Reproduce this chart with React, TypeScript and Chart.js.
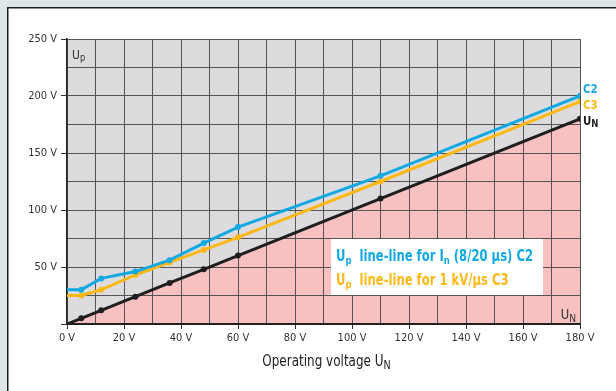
import React, { useEffect, useRef } from 'react';
import { Chart, registerables } from 'chart.js';

Chart.register(...registerables);

// ---- data ----
const voltageN = [0, 5, 12, 24, 36, 48, 60, 110, 180];
const upC2 = [30, 30, 40, 46, 56, 71, 85, 130, 200];
const upC3 = [25, 25, 30, 43, 54, 65, 76, 125, 195];
const unLine = [0, 5, 12, 24, 36, 48, 60, 110, 180];
const xMax = 180;
const yMax = 250;
const xLabelStep = 20;
const yLabelStep = 50;
const unitSuffix = ' V';
const legendC2 = [{ t: 'U' }, { t: 'p', sub: true }, { t: '  line-line for I' }, { t: 'n', sub: true }, { t: ' (8/20 µs) C2' }];
const legendC3 = [{ t: 'U' }, { t: 'p', sub: true }, { t: '  line-line for 1 kV/µs C3' }];
const xTitle = [{ t: 'Operating voltage U' }, { t: 'N', sub: true }];
const yCorner = [{ t: 'U' }, { t: 'p', sub: true }];
const xCorner = [{ t: 'U' }, { t: 'N', sub: true }];
const endC2 = [{ t: 'C2' }];
const endC3 = [{ t: 'C3' }];
const endUN = [{ t: 'U' }, { t: 'N', sub: true }];

const FONT = '"Liberation Sans Narrow", "DejaVu Sans Condensed", "Arial Narrow", sans-serif';
const BLUE = '#12a8e2';
const YELLOW = '#fbb817';
const BLACK = '#1e1e1e';

type Part = { t: string; sub?: boolean };

function drawRich(
  ctx: CanvasRenderingContext2D,
  parts: Part[],
  x: number,
  y: number,
  size: number,
  weight: string,
  color: string,
  align: 'left' | 'center' | 'right' = 'left',
  subScale = 0.75,
  subDrop = 0.22,
  sx = 1
) {
  const main = `${weight} ${size}px ${FONT}`;
  const subf = `${weight} ${Math.round(size * subScale)}px ${FONT}`;
  let w = 0;
  parts.forEach((p) => {
    ctx.font = p.sub ? subf : main;
    w += ctx.measureText(p.t).width;
  });
  const W = w * sx;
  const start = align === 'center' ? x - W / 2 : align === 'right' ? x - W : x;
  ctx.save();
  ctx.translate(start, 0);
  ctx.scale(sx, 1);
  ctx.fillStyle = color;
  ctx.textBaseline = 'alphabetic';
  ctx.textAlign = 'left';
  let cx = 0;
  parts.forEach((p) => {
    ctx.font = p.sub ? subf : main;
    ctx.fillText(p.t, cx, y + (p.sub ? size * subDrop : 0));
    cx += ctx.measureText(p.t).width;
  });
  ctx.restore();
}

export default function App() {
  const ref = useRef<HTMLCanvasElement>(null);

  useEffect(() => {
    document.body.style.margin = '0';
    const canvas = ref.current!;

    const bgPlugin = {
      id: 'bgPlugin',
      beforeDraw(chart: any) {
        const { ctx, chartArea: ca, scales } = chart;
        const xs = scales.x;
        const ys = scales.y;
        ctx.save();
        ctx.fillStyle = '#dfe6ea';
        ctx.fillRect(0, 0, chart.width, chart.height);
        ctx.fillStyle = '#ffffff';
        ctx.fillRect(7, 7, chart.width - 7, chart.height - 7);
        ctx.strokeStyle = '#1e1e1e';
        ctx.lineWidth = 1.5;
        ctx.beginPath();
        ctx.moveTo(7.75, chart.height);
        ctx.lineTo(7.75, 7.75);
        ctx.lineTo(chart.width, 7.75);
        ctx.stroke();
        ctx.fillStyle = '#dcdcde';
        ctx.fillRect(ca.left, ca.top, ca.width, ca.height);
        ctx.fillStyle = '#f8c0c0';
        ctx.beginPath();
        ctx.moveTo(xs.getPixelForValue(voltageN[0]), ys.getPixelForValue(0));
        voltageN.forEach((v, i) => ctx.lineTo(xs.getPixelForValue(v), ys.getPixelForValue(unLine[i])));
        ctx.lineTo(xs.getPixelForValue(voltageN[voltageN.length - 1]), ys.getPixelForValue(0));
        ctx.closePath();
        ctx.fill();
        ctx.restore();
      },
      afterDatasetsDraw(chart: any) {
        const { ctx, chartArea: ca, scales } = chart;
        const xs = scales.x;
        const ys = scales.y;
        ctx.save();
        // legend box
        ctx.fillStyle = '#ffffff';
        ctx.fillRect(331, 239, 212, 56);
        drawRich(ctx, legendC2, 336, 261, 15, 'bold', BLUE, 'left', 0.75, 0.2, 0.86);
        drawRich(ctx, legendC3, 336, 285, 15, 'bold', YELLOW, 'left', 0.75, 0.2, 0.86);
        // corner labels
        drawRich(ctx, yCorner, ca.left + 5, ca.top + 19.5, 13, 'normal', '#333333', 'left', 0.8, 0.18, 0.92);
        drawRich(ctx, xCorner, ca.right - 4, ca.bottom - 5, 14, 'normal', '#333333', 'right', 0.8, 0.2, 0.92);
        // end labels
        const ex = xs.getPixelForValue(voltageN[voltageN.length - 1]) + 3;
        drawRich(ctx, endC2, ex, ys.getPixelForValue(upC2[upC2.length - 1]) - 3, 12, 'bold', BLUE, 'left', 0.75, 0.2, 0.95);
        drawRich(ctx, endC3, ex, ys.getPixelForValue(upC3[upC3.length - 1]) + 7, 12, 'bold', YELLOW, 'left', 0.75, 0.2, 0.95);
        drawRich(ctx, endUN, ex, ys.getPixelForValue(unLine[unLine.length - 1]) + 6, 12, 'bold', BLACK, 'left', 0.8, 0.2, 0.95);
        // x-axis title
        drawRich(ctx, xTitle, (ca.left + ca.right) / 2 + 3, 366, 15, 'normal', '#222222', 'center', 0.8, 0.2, 0.89);
        ctx.restore();
      },
    };

    const mk = (ys: number[], color: string, order: number) => ({
      data: voltageN.map((x, i) => ({ x, y: ys[i] })),
      borderColor: color,
      backgroundColor: color,
      borderWidth: 3,
      pointRadius: (c: any) => (c.dataIndex === 0 ? 0 : 3),
      pointHoverRadius: 3,
      pointBorderWidth: 0,
      pointBackgroundColor: color,
      tension: 0,
      fill: false,
      order,
    });

    const chart = new Chart(canvas, {
      type: 'line',
      data: {
        datasets: [mk(unLine, BLACK, 3), mk(upC3, YELLOW, 2), mk(upC2, BLUE, 1)],
      },
      options: {
        animation: false,
        responsive: false,
        devicePixelRatio: 1,
        layout: { padding: { left: 0, top: 39, right: 36, bottom: 0 } },
        plugins: { legend: { display: false }, tooltip: { enabled: false } },
        events: [],
        scales: {
          x: {
            type: 'linear',
            min: 0,
            max: xMax,
            afterFit: (s: any) => {
              s.height = 67;
            },
            ticks: {
              stepSize: 10,
              autoSkip: false,
              maxRotation: 0,
              padding: 3,
              color: '#333333',
              font: { family: FONT, size: 11 },
              callback: (v: any) => (Number(v) % xLabelStep === 0 ? `${v}${unitSuffix}` : ''),
            },
            grid: {
              color: '#555555',
              lineWidth: 1,
              tickLength: 5,
              tickColor: (c: any) => (c.tick && c.tick.value % xLabelStep === 0 ? '#333333' : 'rgba(0,0,0,0)'),
            },
            border: { display: true, color: '#222222', width: 2 },
          },
          y: {
            type: 'linear',
            min: 0,
            max: yMax,
            afterFit: (s: any) => {
              s.width = 67;
            },
            ticks: {
              stepSize: 25,
              autoSkip: false,
              padding: 4,
              color: '#333333',
              font: { family: FONT, size: 11 },
              callback: (v: any) => (Number(v) % yLabelStep === 0 && Number(v) !== 0 ? `${v}${unitSuffix}` : ''),
            },
            grid: {
              color: '#555555',
              lineWidth: 1,
              tickLength: 6,
              tickColor: (c: any) => (c.tick && c.tick.value % yLabelStep === 0 ? '#333333' : 'rgba(0,0,0,0)'),
            },
            border: { display: true, color: '#222222', width: 1.5 },
          },
        },
      },
      plugins: [bgPlugin],
    } as any);

    return () => chart.destroy();
  }, []);

  return (
    <div style={{ position: 'absolute', left: 0, top: 0, width: 616, height: 391 }}>
      <canvas ref={ref} width={616} height={391} style={{ display: 'block', width: 616, height: 391 }} />
    </div>
  );
}
